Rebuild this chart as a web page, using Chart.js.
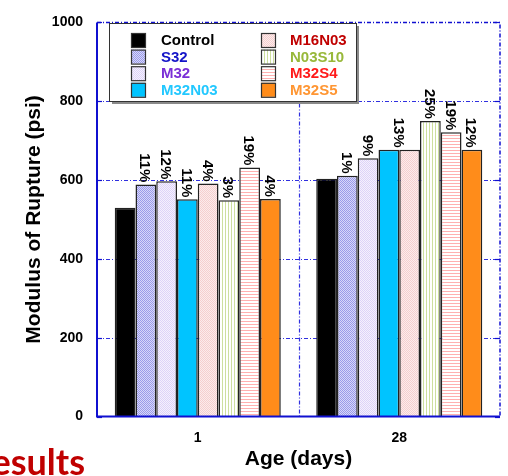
<!DOCTYPE html>
<html>
<head>
<meta charset="utf-8">
<script src="https://cdn.jsdelivr.net/npm/chart.js@4"></script>
<style>
  body { margin: 0; background: #fff; overflow: hidden; }
  #wrap { position: relative; width: 508px; height: 476px; }
  #slideTitle {
    position: absolute; right: 423px; top: 441px;
    font: bold 36px Lato, "Liberation Sans", sans-serif; color: #c00000;
    white-space: nowrap; line-height: 40px;
  }
</style>
</head>
<body>
<div id="wrap">
  <canvas id="mor" width="508" height="476"></canvas>
  <div id="slideTitle">Results</div>
</div>
<script>
// data
const days = ['1', '28'];
const control = [530, 603];
const s32 = [589, 611];
const m32 = [597, 655];
const m32n03 = [551, 677];
const m16n03 = [591, 677];
const n03s10 = [549, 750];
const m32s4 = [632, 721];
const m32s5 = [552, 677];
const yTicks = [0, 200, 400, 600, 800, 1000];

// increase over control, per series
const pctDay1 = ['', '11%', '12%', '11%', '4%', '3%', '19%', '4%'];
const pctDay28 = ['', '1%', '9%', '13%', '', '25%', '19%', '12%'];

const names = ['Control', 'S32', 'M32', 'M32N03', 'M16N03', 'N03S10', 'M32S4', 'M32S5'];
const textColors = ['#000000', '#1414c8', '#7a2fd6', '#22c8ff', '#c00000', '#98b83a', '#ff1a1a', '#ff9633'];

function makePattern(w, h, draw) {
  const c = document.createElement('canvas');
  c.width = w; c.height = h;
  const g = c.getContext('2d');
  draw(g);
  return document.getElementById('mor').getContext('2d').createPattern(c, 'repeat');
}
function checker(a, b) {
  return makePattern(2, 2, g => {
    g.fillStyle = b; g.fillRect(0, 0, 2, 2);
    g.fillStyle = a; g.fillRect(0, 0, 1, 1); g.fillRect(1, 1, 1, 1);
  });
}

const fills = [
  '#000000',
  checker('#9a9aea', '#d8d8f8'),
  checker('#ddd3f8', '#f5f1fd'),
  '#00c4ff',
  checker('#f5cfcf', '#fcecec'),
  makePattern(3, 3, g => { g.fillStyle = '#fff'; g.fillRect(0, 0, 3, 3); g.fillStyle = '#cddf9e'; g.fillRect(0, 0, 1, 3); }),
  makePattern(3, 3, g => { g.fillStyle = '#fff'; g.fillRect(0, 0, 3, 3); g.fillStyle = '#ffb0b0'; g.fillRect(0, 0, 3, 1); }),
  '#ff8c1a'
];

const series = [control, s32, m32, m32n03, m16n03, n03s10, m32s4, m32s5];

const frameBlue = '#1010d0';

const framePlugin = {
  id: 'frame',
  beforeDatasetsDraw(chart) {
    const ctx = chart.ctx, a = chart.chartArea, y = chart.scales.y, x = chart.scales.x;
    ctx.save();
    ctx.strokeStyle = '#3030e0';
    ctx.lineWidth = 1.2;
    ctx.setLineDash([4, 2, 1, 2]);
    yTicks.slice(1, -1).forEach(v => {
      const py = Math.round(y.getPixelForValue(v)) + 0.5;
      ctx.beginPath(); ctx.moveTo(a.left, py); ctx.lineTo(a.right, py); ctx.stroke();
    });
    const mid = Math.round((x.getPixelForValue(0) + x.getPixelForValue(1)) / 2) + 0.5;
    ctx.beginPath(); ctx.moveTo(mid, a.top); ctx.lineTo(mid, a.bottom); ctx.stroke();
    ctx.restore();
  },
  afterDatasetsDraw(chart) {
    const ctx = chart.ctx, a = chart.chartArea, y = chart.scales.y;
    ctx.save();
    ctx.strokeStyle = frameBlue;
    // top and right edges dashed
    ctx.lineWidth = 1.5;
    ctx.setLineDash([4, 2, 1, 2]);
    ctx.beginPath(); ctx.moveTo(a.left, a.top); ctx.lineTo(a.right, a.top); ctx.lineTo(a.right, a.bottom); ctx.stroke();
    ctx.setLineDash([]);
    ctx.lineWidth = 2;
    ctx.beginPath(); ctx.moveTo(a.left, a.top); ctx.lineTo(a.left, a.bottom); ctx.lineTo(a.right, a.bottom); ctx.stroke();
    // small tick marks on both sides
    ctx.lineWidth = 1.2;
    yTicks.forEach(v => {
      const py = Math.round(y.getPixelForValue(v)) + 0.5;
      ctx.beginPath(); ctx.moveTo(a.left, py); ctx.lineTo(a.left + 5, py); ctx.stroke();
      ctx.beginPath(); ctx.moveTo(a.right - 5, py); ctx.lineTo(a.right, py); ctx.stroke();
    });

    // percent labels, rotated
    ctx.fillStyle = '#000';
    ctx.font = 'bold 15px "Liberation Sans", Arial, sans-serif';
    ctx.textAlign = 'right';
    ctx.textBaseline = 'alphabetic';
    [pctDay1, pctDay28].forEach((labels, j) => {
      labels.forEach((txt, i) => {
        if (!txt) return;
        const bar = chart.getDatasetMeta(i).data[j];
        let dx = 0;
        if (j === 1 && i === 3) dx = bar.width / 2; // this one sits between two bars
        ctx.save();
        ctx.translate(bar.x + dx, bar.y);
        ctx.rotate(Math.PI / 2);
        ctx.fillText(txt, -2, 5.4);
        ctx.restore();
      });
    });

    // axis titles
    ctx.font = 'bold 21px "Liberation Sans", Arial, sans-serif';
    ctx.textAlign = 'center';
    ctx.textBaseline = 'middle';
    ctx.fillText('Age (days)', (a.left + a.right) / 2, 459);
    ctx.save();
    ctx.translate(34, (a.top + a.bottom) / 2);
    ctx.rotate(-Math.PI / 2);
    ctx.fillText('Modulus of Rupture (psi)', 0, 0);
    ctx.restore();
    ctx.restore();
  },
  afterDraw(chart) {
    // legend box, two columns
    const ctx = chart.ctx;
    ctx.save();
    ctx.fillStyle = '#8a8a8a';
    ctx.fillRect(112, 26, 247, 78);
    ctx.fillStyle = '#fff';
    ctx.fillRect(109.5, 23.5, 247, 78);
    ctx.strokeStyle = '#333';
    ctx.lineWidth = 1;
    ctx.strokeRect(109.5, 23.5, 247, 78);
    ctx.font = 'bold 15px "Liberation Sans", Arial, sans-serif';
    ctx.textBaseline = 'middle';
    ctx.textAlign = 'left';
    names.forEach((n, i) => {
      const col = Math.floor(i / 4), row = i % 4;
      const sx = col ? 261 : 131, tx = col ? 290 : 161;
      const cy = 40 + row * 16.6;
      ctx.fillStyle = fills[i];
      ctx.fillRect(sx, cy - 7, 14, 14);
      ctx.strokeStyle = '#333';
      ctx.lineWidth = 1.2;
      ctx.strokeRect(sx + 0.5, cy - 6.5, 14, 14);
      ctx.fillStyle = textColors[i];
      ctx.fillText(n, tx, cy + 1);
    });
    ctx.restore();
  }
};

new Chart(document.getElementById('mor'), {
  type: 'bar',
  data: {
    labels: days,
    datasets: series.map((d, i) => ({
      label: names[i],
      data: d,
      backgroundColor: fills[i],
      borderColor: '#222',
      borderWidth: 1.5,
      categoryPercentage: 0.824,
      barPercentage: 1
    }))
  },
  options: {
    responsive: false,
    animation: false,
    layout: { padding: { top: 15, right: 8, left: 0, bottom: 0 } },
    plugins: { legend: { display: false }, tooltip: { enabled: false } },
    scales: {
      x: {
        grid: { display: false, drawTicks: false },
        border: { display: false },
        ticks: { color: '#000', padding: 13, font: { family: '"Liberation Sans", Arial', size: 14, weight: 'bold' } },
        afterFit(s) { s.height = 59.5; }
      },
      y: {
        min: 0, max: 1000,
        grid: { display: false, drawTicks: false },
        border: { display: false },
        ticks: {
          stepSize: 200, color: '#000', padding: 14,
          font: { family: '"Liberation Sans", Arial', size: 14, weight: 'bold' },
          callback: v => String(v)
        },
        afterFit(s) { s.width = 97; }
      }
    }
  },
  plugins: [framePlugin]
});
</script>
</body>
</html>
